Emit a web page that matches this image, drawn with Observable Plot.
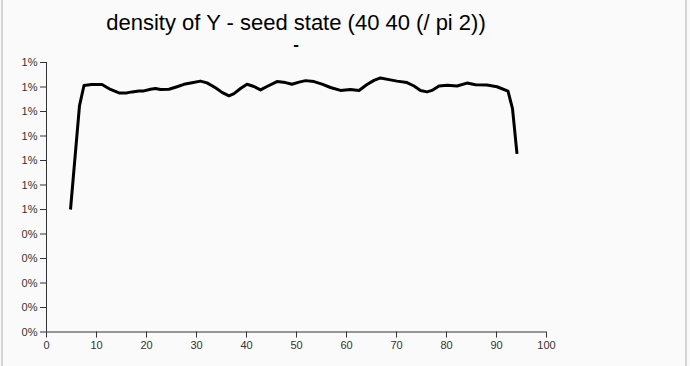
<!DOCTYPE html>
<html><head><meta charset="utf-8">
<script src="https://cdn.jsdelivr.net/npm/d3@7"></script>
<script src="https://cdn.jsdelivr.net/npm/@observablehq/plot@0.6"></script>
<style>
body{margin:0;background:#fafafa;font-family:"Liberation Sans",Arial,sans-serif;}
#wrap{position:relative;width:690px;height:366px;overflow:hidden;}
.bl{position:absolute;top:0;width:2px;height:366px;background:#d4d4d4;}
.t{position:absolute;left:46px;width:500px;text-align:center;line-height:20px;height:20px;color:#000;white-space:nowrap;}
#chart{position:absolute;left:0;top:56px;}
</style></head><body>
<div id="wrap">
<div class="bl" style="left:1px"></div><div class="bl" style="left:685px"></div>
<div class="t" style="top:12.6px;font-size:22px">density of Y - seed state (40 40 (/ pi 2))</div>
<div class="t" style="top:34.6px;font-size:17px;font-weight:bold">-</div>
<div id="chart"></div>
</div>
<script>
const xValues = [4.8, 6.6, 7.5, 9.0, 11.1, 12.8, 14.5, 16.1, 17.1, 18.5, 19.5, 20.8, 21.8, 22.8, 24.5, 26.1, 27.5, 29.1, 30.8, 32.1, 33.8, 35.1, 36.5, 37.5, 38.8, 40.1, 41.5, 42.8, 44.1, 46.1, 47.8, 49.1, 50.5, 51.8, 53.5, 55.1, 56.8, 58.8, 60.8, 62.5, 64.1, 65.5, 66.8, 68.5, 70.1, 72.1, 73.5, 74.8, 76.1, 77.1, 78.5, 80.1, 82.1, 84.1, 85.8, 88.1, 90.1, 92.3, 93.2, 94.1];
const densities = [0.00500, 0.00924, 0.01006, 0.01010, 0.01010, 0.00990, 0.00976, 0.00976, 0.00980, 0.00984, 0.00984, 0.00991, 0.00994, 0.00990, 0.00991, 0.01001, 0.01011, 0.01017, 0.01024, 0.01017, 0.00997, 0.00978, 0.00964, 0.00973, 0.00994, 0.01011, 0.01002, 0.00988, 0.01002, 0.01022, 0.01018, 0.01011, 0.01020, 0.01026, 0.01022, 0.01012, 0.00998, 0.00986, 0.00990, 0.00986, 0.01010, 0.01027, 0.01037, 0.01030, 0.01024, 0.01018, 0.01004, 0.00986, 0.00980, 0.00986, 0.01004, 0.01007, 0.01004, 0.01016, 0.01009, 0.01008, 0.01001, 0.00983, 0.00912, 0.00727];
const xTicks = [0, 10, 20, 30, 40, 50, 60, 70, 80, 90, 100];
const yTicks = [0, 0.001, 0.002, 0.003, 0.004, 0.005, 0.006, 0.007, 0.008, 0.009, 0.010, 0.011];

const data = xValues.map((x, i) => ({x, y: densities[i]}));
const fmt = d3.format(".0%");
const chart = Plot.plot({
  width: 690, height: 310,
  marginLeft: 46, marginRight: 144, marginTop: 6, marginBottom: 34.5,
  style: {background: "transparent", fontFamily: "Liberation Sans, Arial, sans-serif", fontSize: "11px", color: "#333"},
  x: {domain: [0, 100], ticks: xTicks, label: null},
  y: {domain: [0, 0.011], ticks: yTicks, tickFormat: fmt, label: null},
  marks: [
    Plot.ruleX([0], {stroke: "#333"}),
    Plot.ruleY([0], {stroke: "#333"}),
    Plot.line(data, {x: "x", y: "y", stroke: "#000", strokeWidth: 3, strokeLinejoin: "round", strokeLinecap: "butt"})
  ]
});
document.getElementById("chart").append(chart);
</script>
</body></html>
